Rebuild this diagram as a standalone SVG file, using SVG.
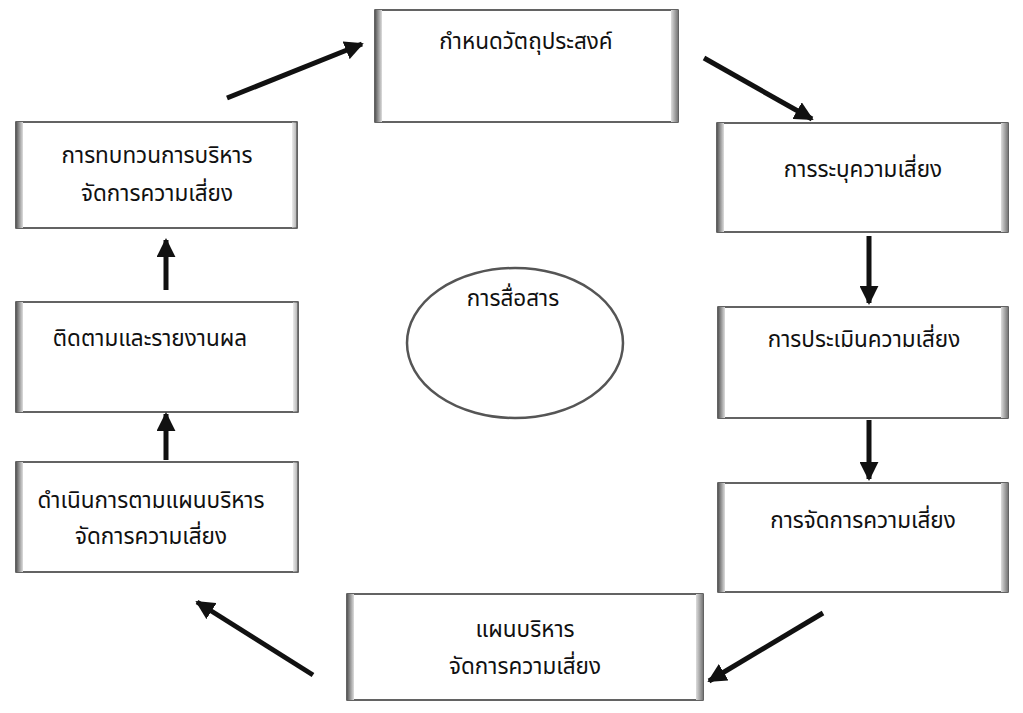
<svg xmlns="http://www.w3.org/2000/svg" width="1023" height="713" viewBox="0 0 1023 713">
<defs>
<style>
.box{fill:#fff;stroke:#222;stroke-width:1.4}
.edgeL{fill:url(#gl)}
.edgeR{fill:url(#gr)}
.t{font-family:"Noto Sans Thai","Noto Sans","Liberation Sans",sans-serif;font-size:22.5px;fill:#111;text-anchor:middle}
.conn line{stroke:#111;stroke-width:5;marker-end:url(#ah)}
.ell{fill:#fff;stroke:#555;stroke-width:2.5}
</style>
<linearGradient id="gl" x1="0" x2="1" y1="0" y2="0"><stop offset="0" stop-color="#555"/><stop offset="0.5" stop-color="#999"/><stop offset="1" stop-color="#ddd"/></linearGradient>
<linearGradient id="gr" x1="0" x2="1" y1="0" y2="0"><stop offset="0" stop-color="#ddd"/><stop offset="0.5" stop-color="#aaa"/><stop offset="1" stop-color="#777"/></linearGradient>
<marker id="ah" viewBox="0 0 10 10" refX="9" refY="5" markerWidth="3.8" markerHeight="3.8" orient="auto" markerUnits="strokeWidth"><path d="M0,0 L10,5 L0,10 Z" fill="#111"/></marker>
</defs>
<rect width="1023" height="713" fill="#fff"/>

<g id="n-objective">
<rect class="box" x="375" y="10" width="303" height="112"/>
<rect class="edgeL" x="375" y="10" width="7" height="112"/><rect class="edgeR" x="671" y="10" width="7" height="112"/>
<text class="t" x="526" y="49">กำหนดวัตถุประสงค์</text>
</g>

<g id="n-identify">
<rect class="box" x="717" y="123" width="291" height="109"/>
<rect class="edgeL" x="717" y="123" width="7" height="109"/><rect class="edgeR" x="1001" y="123" width="7" height="109"/>
<text class="t" x="863" y="177">การระบุความเสี่ยง</text>
</g>

<g id="n-assess">
<rect class="box" x="718" y="307" width="290" height="111"/>
<rect class="edgeL" x="718" y="307" width="7" height="111"/><rect class="edgeR" x="1001" y="307" width="7" height="111"/>
<text class="t" x="864" y="347">การประเมินความเสี่ยง</text>
</g>

<g id="n-treat">
<rect class="box" x="718" y="483" width="290" height="109"/>
<rect class="edgeL" x="718" y="483" width="7" height="109"/><rect class="edgeR" x="1001" y="483" width="7" height="109"/>
<text class="t" x="863" y="528">การจัดการความเสี่ยง</text>
</g>

<g id="n-plan">
<rect class="box" x="347" y="594" width="356" height="106"/>
<rect class="edgeL" x="347" y="594" width="7" height="106"/><rect class="edgeR" x="696" y="594" width="7" height="106"/>
<text class="t" x="525" y="637">แผนบริหาร</text>
<text class="t" x="525" y="674">จัดการความเสี่ยง</text>
</g>

<g id="n-implement">
<rect class="box" x="16" y="462" width="282" height="110"/>
<rect class="edgeL" x="16" y="462" width="7" height="110"/><rect class="edgeR" x="293" y="462" width="5" height="110" opacity="0.6"/>
<text class="t" x="151" y="508">ดำเนินการตามแผนบริหาร</text>
<text class="t" x="151" y="544">จัดการความเสี่ยง</text>
</g>

<g id="n-monitor">
<rect class="box" x="16" y="302" width="282" height="110"/>
<rect class="edgeL" x="16" y="302" width="7" height="110"/><rect class="edgeR" x="293" y="302" width="5" height="110" opacity="0.6"/>
<text class="t" x="150" y="346">ติดตามและรายงานผล</text>
</g>

<g id="n-review">
<rect class="box" x="16" y="122" width="281" height="106"/>
<rect class="edgeL" x="16" y="122" width="7" height="106"/><rect class="edgeR" x="292" y="122" width="5" height="106" opacity="0.6"/>
<text class="t" x="157" y="163">การทบทวนการบริหาร</text>
<text class="t" x="157" y="201">จัดการความเสี่ยง</text>
</g>

<g id="n-communicate">
<ellipse class="ell" cx="515" cy="343" rx="108" ry="75"/>
<text class="t" x="513" y="306">การสื่อสาร</text>
</g>

<g id="connectors" class="conn">
<line x1="227" y1="98" x2="362" y2="44"/>
<line x1="704" y1="58" x2="812" y2="119"/>
<line x1="869" y1="236" x2="869" y2="303"/>
<line x1="869" y1="420" x2="869" y2="479"/>
<line x1="823" y1="613" x2="709" y2="681"/>
<line x1="313" y1="675" x2="197" y2="602"/>
<line x1="166" y1="460" x2="166" y2="414"/>
<line x1="166" y1="290" x2="166" y2="240"/>
</g>
</svg>
